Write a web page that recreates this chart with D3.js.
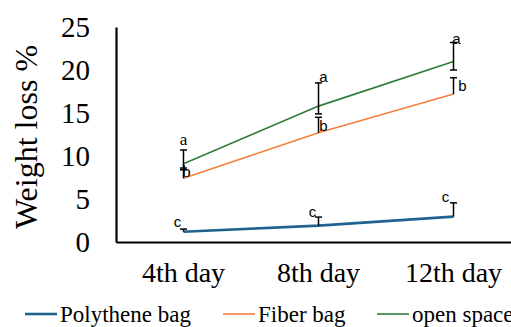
<!DOCTYPE html>
<html>
<head>
<meta charset="utf-8">
<script src="https://cdn.jsdelivr.net/npm/d3@7"></script>
<style>
  body { margin: 0; background: #fff; }
  text { fill: #000; }
  .serif { font-family: "Liberation Serif", "DejaVu Serif", serif; }
  .sans { font-family: "Liberation Sans", Arial, sans-serif; }
</style>
</head>
<body>
<div id="chart"></div>
<script>
// data
const categories = ["4th day", "8th day", "12th day"];
const seriesNames = ["Polythene bag", "Fiber bag", "open space"];
const polythene = [1.2, 1.9, 2.95];
const fiber = [7.4, 12.7, 17.2];
const openSpace = [9.1, 15.8, 21.0];
const polythenePlus = [0.3, 1.0, 1.6];
const fiberPlus = [1.0, 1.8, 1.9];
const openPlus = [1.6, 2.7, 2.2];
const openMinus = [0.5, 0.9, 1.0];
const polytheneLetters = ["c", "c", "c"];
const fiberLetters = ["b", "b", "b"];
const openLetters = ["a", "a", "a"];
const yTicks = [0, 5, 10, 15, 20, 25];

const width = 511, height = 327;
const colors = ["#20628F", "#F4803E", "#2F7D3A"];
const strokeW = [2.6, 1.6, 1.6];

const series = [
  {name: seriesNames[0], values: polythene, plus: polythenePlus, minus: [0, 0, 0], letters: polytheneLetters,
   // letter offsets from the top of the error bar
   off: [[-6, -7], [-6, -5], [-8, -6]]},
  {name: seriesNames[1], values: fiber, plus: fiberPlus, minus: [0, 0, 0], letters: fiberLetters,
   off: [[3, 1], [5, 8], [9, 8]]},
  {name: seriesNames[2], values: openSpace, plus: openPlus, minus: openMinus, letters: openLetters,
   off: [[0, -11], [5, -6], [3, -4]]}
];

const svg = d3.select("#chart").append("svg")
  .attr("width", width)
  .attr("height", height);

const x = d3.scaleBand().domain(categories).range([116, 521]).paddingInner(0).paddingOuter(0);
const y = d3.scaleLinear().domain([0, 25]).range([242, 27]);
const cx = d => x(d) + x.bandwidth() / 2;

// axes
const yAxis = svg.append("g")
  .attr("transform", "translate(116,0)")
  .call(d3.axisLeft(y).tickValues(yTicks).tickSize(0).tickPadding(26));
yAxis.attr("font-family", null);
yAxis.select(".domain").attr("stroke", "#000").attr("stroke-width", 2.2);
yAxis.selectAll("text")
  .attr("class", "serif")
  .attr("font-size", 29)
  .attr("fill", "#000");

const xAxis = svg.append("g")
  .attr("transform", "translate(0,242)")
  .call(d3.axisBottom(x).tickSize(0).tickPadding(20));
xAxis.attr("font-family", null);
xAxis.select(".domain").attr("stroke", "#000").attr("stroke-width", 2.2);
xAxis.selectAll("text")
  .attr("class", "serif")
  .attr("font-size", 28)
  .attr("fill", "#000");

svg.append("text")
  .attr("class", "serif")
  .attr("transform", "translate(37,137) rotate(-90)")
  .attr("text-anchor", "middle")
  .attr("font-size", 32)
  .text("Weight loss %");

const line = d3.line()
  .x((d, i) => cx(categories[i]))
  .y(d => y(d));

series.forEach((s, k) => {
  svg.append("path")
    .datum(s.values)
    .attr("fill", "none")
    .attr("stroke", colors[k])
    .attr("stroke-width", strokeW[k])
    .attr("d", line);
});

// error bars and letters
series.forEach((s, k) => {
  const g = svg.append("g");
  s.values.forEach((v, i) => {
    const px = cx(categories[i]);
    const top = y(v + s.plus[i]);
    const bot = y(v - s.minus[i]);
    g.append("line").attr("x1", px).attr("x2", px).attr("y1", top).attr("y2", bot)
      .attr("stroke", "#000").attr("stroke-width", 1.5);
    g.append("line").attr("x1", px - 3.5).attr("x2", px + 3.5).attr("y1", top).attr("y2", top)
      .attr("stroke", "#000").attr("stroke-width", 1.5);
    if (s.minus[i] > 0) {
      g.append("line").attr("x1", px - 3.5).attr("x2", px + 3.5).attr("y1", bot).attr("y2", bot)
        .attr("stroke", "#000").attr("stroke-width", 1.5);
    }
    const serifLetter = i === 0 && k > 0;
    g.append("text")
      .attr("class", serifLetter ? "serif" : "sans")
      .attr("x", px + s.off[i][0])
      .attr("y", top + s.off[i][1])
      .attr("dy", "0.35em")
      .attr("text-anchor", "middle")
      .attr("font-size", serifLetter ? 17 : 15)
      .text(s.letters[i]);
  });
});

// legend
const legendX = [25, 223, 377];
const legend = svg.append("g");
series.forEach((s, k) => {
  legend.append("line")
    .attr("x1", legendX[k]).attr("x2", legendX[k] + 32)
    .attr("y1", 314).attr("y2", 314)
    .attr("stroke", colors[k]).attr("stroke-width", strokeW[k]);
  legend.append("text")
    .attr("class", "serif")
    .attr("x", legendX[k] + 35)
    .attr("y", 314)
    .attr("dy", "0.35em")
    .attr("font-size", 23)
    .text(s.name);
});
</script>
</body>
</html>
